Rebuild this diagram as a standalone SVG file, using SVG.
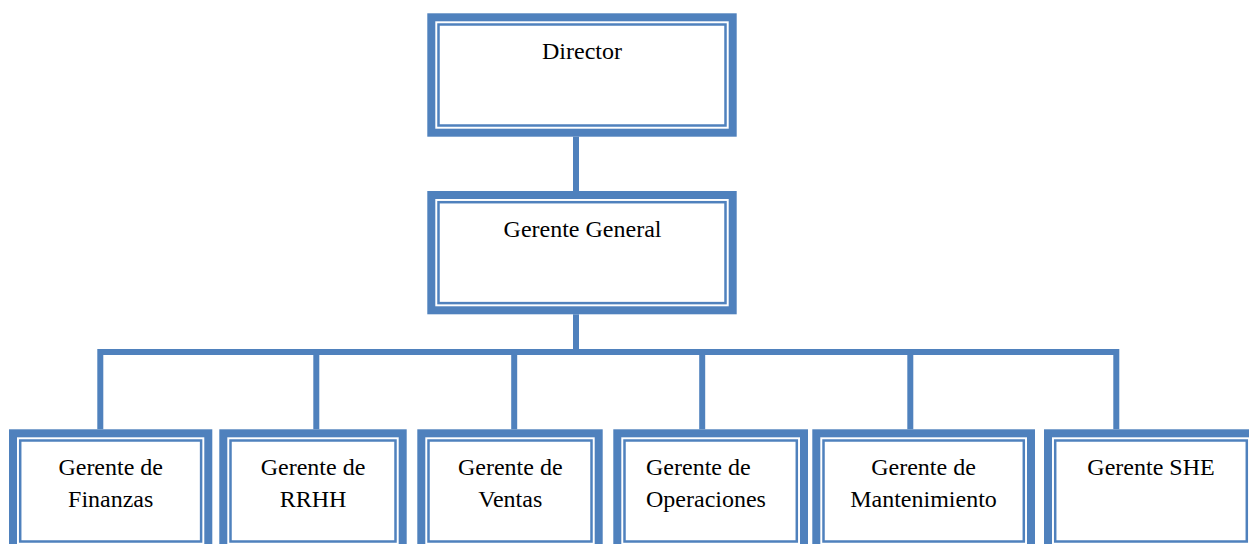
<svg xmlns="http://www.w3.org/2000/svg" width="1249" height="544" viewBox="0 0 1249 544">
<style>
.thick{fill:#ffffff;stroke:#4F81BD;stroke-width:8}
.thin{fill:none;stroke:#4F81BD;stroke-width:2.5}
.conn{fill:none;stroke:#4F81BD;stroke-width:6;stroke-linejoin:miter}
text{font-family:"Liberation Serif","Times New Roman",serif;font-size:24px;fill:#000000}
.c{text-anchor:middle}
</style>
<rect width="1249" height="544" fill="#ffffff"/>
<g id="connectors">
<path class="conn" d="M576,136.7 V191"/>
<path class="conn" d="M576,314.3 V352"/>
<path class="conn" d="M100.3,429.3 V352 H1116.3 V429.3"/>
<path class="conn" d="M316.3,352 V429.3"/>
<path class="conn" d="M514.2,352 V429.3"/>
<path class="conn" d="M702.2,352 V429.3"/>
<path class="conn" d="M910.3,352 V429.3"/>
</g>
<g id="director">
<rect class="thick" x="431.3" y="17.3" width="301.4" height="115.4"/>
<rect class="thin" x="438.5" y="24.5" width="287" height="101"/>
<text class="c" x="582" y="59.3">Director</text>
</g>
<g id="gerente-general">
<rect class="thick" x="431.3" y="195" width="301.4" height="115.3"/>
<rect class="thin" x="438.5" y="202.2" width="287" height="100.9"/>
<text class="c" x="582.5" y="236.7">Gerente General</text>
</g>
<g id="finanzas">
<rect class="thick" x="13" y="433.3" width="195.3" height="115.4"/>
<rect class="thin" x="20.2" y="440.5" width="180.9" height="101"/>
<text class="c" x="110.7" y="475">Gerente de</text>
<text class="c" x="110.7" y="506.7">Finanzas</text>
</g>
<g id="rrhh">
<rect class="thick" x="223.3" y="433.3" width="179.4" height="115.4"/>
<rect class="thin" x="230.5" y="440.5" width="165" height="101"/>
<text class="c" x="313" y="475">Gerente de</text>
<text class="c" x="313" y="506.7">RRHH</text>
</g>
<g id="ventas">
<rect class="thick" x="421.3" y="433.3" width="177.4" height="115.4"/>
<rect class="thin" x="428.5" y="440.5" width="163" height="101"/>
<text class="c" x="510.3" y="475">Gerente de</text>
<text class="c" x="510.3" y="506.7">Ventas</text>
</g>
<g id="operaciones">
<rect class="thick" x="617.3" y="433.3" width="186.7" height="115.4"/>
<rect class="thin" x="624.5" y="440.5" width="172.3" height="101"/>
<text x="646" y="475">Gerente de</text>
<text x="646" y="506.7">Operaciones</text>
</g>
<g id="mantenimiento">
<rect class="thick" x="816.3" y="433.3" width="214.7" height="115.4"/>
<rect class="thin" x="823.5" y="440.5" width="200.3" height="101"/>
<text class="c" x="923.5" y="475">Gerente de</text>
<text class="c" x="923.5" y="506.7">Mantenimiento</text>
</g>
<g id="she">
<rect class="thick" x="1048" y="433.3" width="206" height="115.4"/>
<rect class="thin" x="1055.2" y="440.5" width="191.6" height="101"/>
<text class="c" x="1151" y="475">Gerente SHE</text>
</g>
</svg>
